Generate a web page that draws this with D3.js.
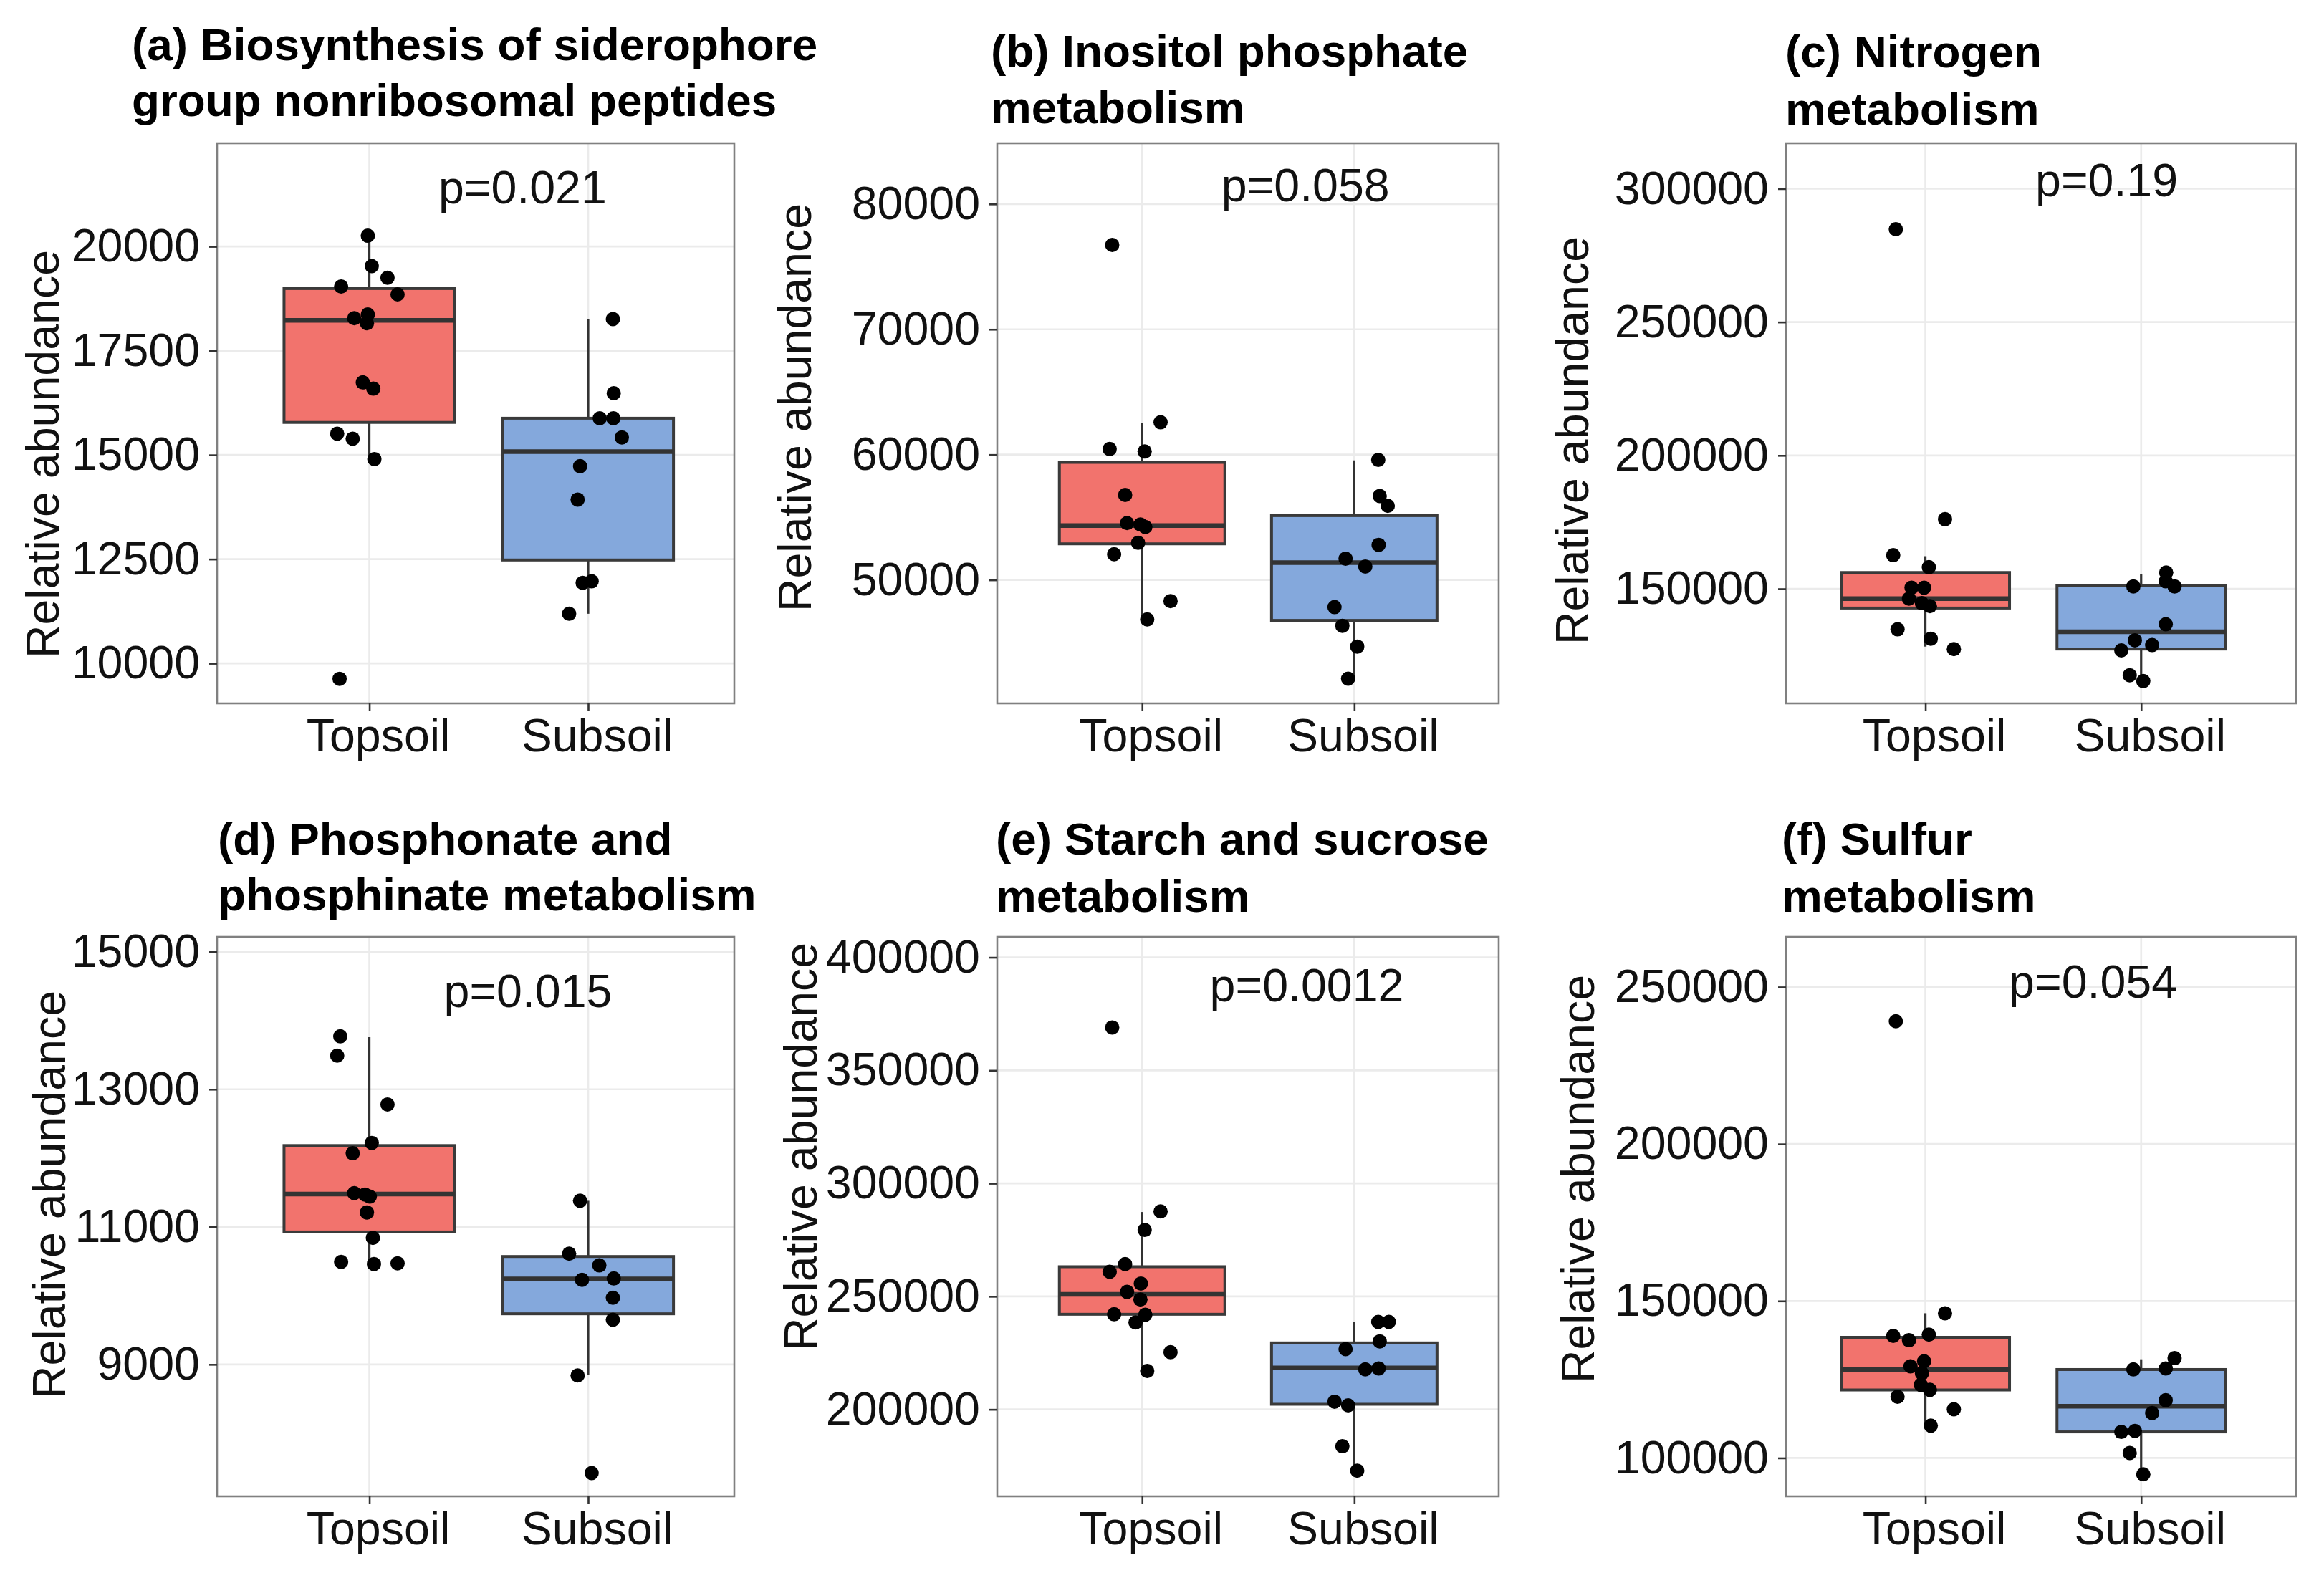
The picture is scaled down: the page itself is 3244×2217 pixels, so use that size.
<!DOCTYPE html>
<html>
<head>
<meta charset="utf-8">
<script src="https://cdn.jsdelivr.net/npm/d3@7"></script>
<style>
  html, body { margin: 0; padding: 0; background: #fff; }
  svg { display: block; }
</style>
</head>
<body>
<div id="chart"></div>
<script>
const groups = ['Topsoil', 'Subsoil'];

const titles = [
  ['(a) Biosynthesis of siderophore', 'group nonribosomal peptides'],
  ['(b) Inositol phosphate', 'metabolism'],
  ['(c) Nitrogen', 'metabolism'],
  ['(d) Phosphonate and', 'phosphinate metabolism'],
  ['(e) Starch and sucrose', 'metabolism'],
  ['(f) Sulfur', 'metabolism']
];

const pLabels = ['p=0.021', 'p=0.058', 'p=0.19', 'p=0.015', 'p=0.0012', 'p=0.054'];
// label position in data units: [category position, value at baseline]
const pLabelAt = [[1.70, 21040], [1.77, 80240], [1.84, 297200], [1.725, 14200], [1.776, 380500], [1.777, 246600]];

const yTicks = [
  [10000, 12500, 15000, 17500, 20000],
  [50000, 60000, 70000, 80000],
  [150000, 200000, 250000, 300000],
  [9000, 11000, 13000, 15000],
  [200000, 250000, 300000, 350000, 400000],
  [100000, 150000, 200000, 250000]
];
const yDomains = [
  [9040, 22476], [40146, 84849], [107037, 317037],
  [7082, 15216], [161543, 409050], [87785, 265961]
];

// five-number box summaries: [low whisker, Q1, median, Q3, high whisker]
const topsoilBoxes = [
  [14900, 15780, 18230, 18990, 20260],
  [46850, 52880, 54340, 59380, 62500],
  [128330, 142780, 146300, 156110, 162220],
  [10465, 10926, 11476, 12182, 13758],
  [216970, 242090, 250910, 263120, 287330],
  [110250, 121660, 128170, 138430, 146090]
];
const subsoilBoxes = [
  [11190, 12480, 15080, 15880, 18260],
  [42120, 46770, 51380, 55130, 59540],
  [115370, 127410, 133890, 151110, 155560],
  [8851, 9736, 10242, 10569, 11379],
  [172860, 202270, 218330, 229420, 238690],
  [94790, 108300, 116450, 128170, 131430]
];

// samples: [horizontal jitter (category units), value]
const topsoilPts = [
  [[-0.007, 20260], [0.011, 19530], [0.083, 19250], [-0.129, 19040], [0.129, 18850], [-0.069, 18280],
   [-0.007, 18370], [-0.011, 18160], [-0.030, 16740], [0.018, 16590], [-0.147, 15510], [-0.076, 15390],
   [0.023, 14900], [-0.136, 9630]],
  [[-0.141, 76730], [0.087, 62580], [-0.153, 60450], [0.012, 60250], [-0.080, 56780], [-0.071, 54540],
   [-0.008, 54420], [0.015, 54220], [-0.019, 52960], [-0.132, 52050], [0.134, 48310], [0.024, 46850]],
  [[-0.137, 284800], [0.091, 176100], [-0.149, 162600], [0.016, 158100], [-0.064, 150400], [-0.006, 150400],
   [-0.076, 146300], [-0.016, 144600], [0.021, 143500], [-0.129, 134800], [0.025, 131300], [0.132, 127400]],
  [[-0.133, 13770], [-0.147, 13490], [0.083, 12780], [0.011, 12220], [-0.076, 12070], [-0.069, 11490],
   [-0.020, 11470], [0.002, 11440], [-0.011, 11210], [0.016, 10840], [-0.129, 10490], [0.021, 10460],
   [0.129, 10470]],
  [[-0.141, 369000], [0.087, 287600], [0.012, 279400], [-0.080, 264300], [-0.153, 260900], [-0.006, 255700],
   [-0.071, 252000], [-0.008, 248600], [0.015, 241900], [-0.132, 242100], [-0.031, 238500], [0.134, 225300],
   [0.024, 217000]],
  [[-0.137, 239100], [0.091, 146100], [-0.149, 138900], [0.016, 139300], [-0.076, 137500], [-0.006, 130800],
   [-0.069, 129200], [-0.016, 127000], [-0.021, 123300], [0.021, 121700], [-0.129, 119500], [0.132, 115500],
   [0.025, 110300]]
];
const subsoilPts = [
  [[0.113, 18260], [0.117, 16480], [0.053, 15880], [0.115, 15880], [0.154, 15420], [-0.037, 14730],
   [-0.048, 13930], [-0.025, 11930], [0.016, 11970], [-0.087, 11190]],
  [[0.113, 59580], [0.120, 56700], [0.158, 55910], [0.115, 52800], [-0.041, 51700], [0.052, 51070],
   [-0.093, 47830], [-0.056, 46340], [0.014, 44680], [-0.029, 42120]],
  [[0.116, 156100], [-0.036, 150900], [0.114, 152800], [0.155, 150900], [0.114, 136700], [-0.029, 130700],
   [0.051, 128900], [-0.092, 126900], [-0.053, 117600], [0.010, 115400]],
  [[-0.037, 11380], [-0.087, 10610], [0.051, 10440], [-0.028, 10230], [0.117, 10250], [0.113, 9970],
   [0.113, 9650], [-0.048, 8840], [0.016, 7420]],
  [[0.113, 238700], [0.163, 238700], [0.120, 230100], [-0.041, 226700], [0.052, 217700], [0.115, 218100],
   [-0.093, 203400], [-0.029, 201800], [-0.056, 183700], [0.014, 172900]],
  [[0.155, 131800], [-0.036, 128200], [0.114, 128500], [0.114, 118400], [0.051, 114300], [-0.092, 108300],
   [-0.029, 108600], [-0.053, 101600], [0.010, 94800]]
];

// ---- layout (pixels) ----
const W = 3244, H = 2217;
const FONT = '"Liberation Sans", Arial, Helvetica, sans-serif';
const FS = 64.5;
const FS_TITLE = 63.8;
const colors = ['#F2736D', '#84A8DC'];
const boxWidth = 0.78, xSpan = 2.364;

const layout = [
  { x0: 303,  x1: 1025, y0: 200,  y1: 982,  xLeft: 0.304, tx: 184,  ty: [84, 162],    yx: 82,   yy: 634 },
  { x0: 1392, x1: 2092, y0: 200,  y1: 982,  xLeft: 0.317, tx: 1383, ty: [93, 172],    yx: 1132, yy: 569 },
  { x0: 2493, x1: 3205, y0: 200,  y1: 982,  xLeft: 0.354, tx: 2492, ty: [94, 174],    yx: 2217, yy: 615 },
  { x0: 303,  x1: 1025, y0: 1308, y1: 2089, xLeft: 0.304, tx: 304,  ty: [1193, 1271], yx: 91,   yy: 1668 },
  { x0: 1392, x1: 2092, y0: 1308, y1: 2089, xLeft: 0.317, tx: 1390, ty: [1193, 1273], yx: 1140, yy: 1601 },
  { x0: 2493, x1: 3205, y0: 1308, y1: 2089, xLeft: 0.354, tx: 2487, ty: [1193, 1273], yx: 2225, yy: 1646 }
];

const svg = d3.select('#chart').append('svg')
    .attr('width', W).attr('height', H)
    .attr('font-family', FONT);

svg.append('rect').attr('width', W).attr('height', H).attr('fill', '#fff');

layout.forEach((L, i) => {
  const x = d3.scaleLinear().domain([L.xLeft, L.xLeft + xSpan]).range([L.x0, L.x1]);
  const y = d3.scaleLinear().domain(yDomains[i]).range([L.y1, L.y0]);
  const g = svg.append('g');

  // grid
  g.append('g').selectAll('line')
    .data(yTicks[i])
    .join('line')
      .attr('x1', L.x0).attr('x2', L.x1)
      .attr('y1', d => y(d)).attr('y2', d => y(d))
      .attr('stroke', '#EBEBEB').attr('stroke-width', 2.7);
  g.append('g').selectAll('line')
    .data([1, 2])
    .join('line')
      .attr('x1', d => x(d)).attr('x2', d => x(d))
      .attr('y1', L.y0).attr('y2', L.y1)
      .attr('stroke', '#EBEBEB').attr('stroke-width', 2.7);

  // boxes
  const boxes = [topsoilBoxes[i], subsoilBoxes[i]];
  const box = g.append('g').selectAll('g')
    .data(boxes)
    .join('g');
  box.append('line')
      .attr('x1', (d, k) => x(k + 1)).attr('x2', (d, k) => x(k + 1))
      .attr('y1', d => y(d[4])).attr('y2', d => y(d[3]))
      .attr('stroke', '#333').attr('stroke-width', 3.2);
  box.append('line')
      .attr('x1', (d, k) => x(k + 1)).attr('x2', (d, k) => x(k + 1))
      .attr('y1', d => y(d[1])).attr('y2', d => y(d[0]))
      .attr('stroke', '#333').attr('stroke-width', 3.2);
  box.append('rect')
      .attr('x', (d, k) => x(k + 1 - boxWidth / 2))
      .attr('width', (d, k) => x(k + 1 + boxWidth / 2) - x(k + 1 - boxWidth / 2))
      .attr('y', d => y(d[3]))
      .attr('height', d => y(d[1]) - y(d[3]))
      .attr('fill', (d, k) => colors[k])
      .attr('stroke', '#3a3a3a').attr('stroke-width', 4);
  box.append('line')
      .attr('x1', (d, k) => x(k + 1 - boxWidth / 2)).attr('x2', (d, k) => x(k + 1 + boxWidth / 2))
      .attr('y1', d => y(d[2])).attr('y2', d => y(d[2]))
      .attr('stroke', '#333').attr('stroke-width', 6.5);

  // jittered samples
  const pts = [
    ...topsoilPts[i].map(p => ({ k: 0, dx: p[0], v: p[1] })),
    ...subsoilPts[i].map(p => ({ k: 1, dx: p[0], v: p[1] }))
  ];
  g.append('g').selectAll('circle')
    .data(pts)
    .join('circle')
      .attr('cx', d => x(d.k + 1 + d.dx))
      .attr('cy', d => y(d.v))
      .attr('r', 10)
      .attr('fill', '#000');

  // p-value
  g.append('text')
      .attr('x', x(pLabelAt[i][0]))
      .attr('y', y(pLabelAt[i][1]))
      .attr('text-anchor', 'middle')
      .attr('font-size', FS)
      .attr('fill', '#111')
      .text(pLabels[i]);

  // panel border
  g.append('rect')
      .attr('x', L.x0).attr('y', L.y0)
      .attr('width', L.x1 - L.x0).attr('height', L.y1 - L.y0)
      .attr('fill', 'none')
      .attr('stroke', '#808080').attr('stroke-width', 2.6);

  // axes
  const ya = g.append('g')
      .attr('transform', `translate(${L.x0},0)`)
      .call(d3.axisLeft(y).tickValues(yTicks[i]).tickSize(11).tickPadding(13).tickFormat(d3.format('d')));
  const xa = g.append('g')
      .attr('transform', `translate(0,${L.y1})`)
      .call(d3.axisBottom(x).tickValues([1, 2]).tickSize(11).tickPadding(10).tickFormat(d => groups[d - 1]));
  [ya, xa].forEach(a => {
    a.select('.domain').remove();
    a.selectAll('.tick line').attr('stroke', '#333').attr('stroke-width', 2.6);
    a.selectAll('.tick text')
      .attr('font-family', FONT)
      .attr('font-size', FS)
      .attr('fill', '#111');
  });
  xa.selectAll('.tick text').attr('dx', 12);

  // y axis title
  g.append('text')
      .attr('transform', `translate(${L.yx},${L.yy}) rotate(-90)`)
      .attr('text-anchor', 'middle')
      .attr('font-size', FS)
      .attr('fill', '#111')
      .text('Relative abundance');

  // title
  const t = g.append('text')
      .attr('font-size', FS_TITLE)
      .attr('font-weight', 'bold')
      .attr('fill', '#000');
  titles[i].forEach((line, j) => {
    t.append('tspan').attr('x', L.tx).attr('y', L.ty[j]).text(line);
  });
});
</script>
</body>
</html>
